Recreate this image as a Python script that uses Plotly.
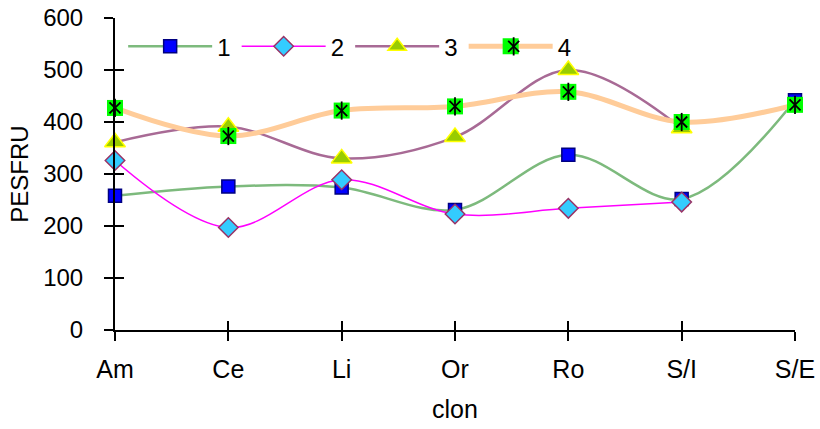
import plotly.graph_objects as go

# Clone categories and PESFRU values for each series
clones = ["Am", "Ce", "Li", "Or", "Ro", "S/I", "S/E"]
serie_1 = [258, 276, 274, 231, 337, 252, 442]
serie_2 = [326, 197, 289, 223, 234, 246, None]
serie_3 = [361, 391, 330, 371, 500, 388, None]
serie_4 = [427, 373, 422, 430, 458, 400, 433]
y_ticks = [0, 100, 200, 300, 400, 500, 600]

FAMILY = "Liberation Sans, Arial, sans-serif"
FONT = dict(family=FAMILY, size=24, color="black")
XFONT = dict(family=FAMILY, size=25, color="black")

fig = go.Figure()

common = dict(x=clones, mode="lines+markers", cliponaxis=False,
              line_shape="spline", connectgaps=False)

fig.add_trace(go.Scatter(
    y=serie_1, name="1", **common,
    line=dict(color="#7DBA7D", width=2.5, smoothing=1),
    marker=dict(symbol="square", size=13, color="#0000FF",
                line=dict(color="#000080", width=1.5)),
))
fig.add_trace(go.Scatter(
    y=serie_2, name="2", **common,
    line=dict(color="#FF00FF", width=1.5, smoothing=1),
    marker=dict(symbol="diamond", size=15, color="#33CCFF",
                line=dict(color="#993366", width=1.5)),
))
fig.add_trace(go.Scatter(
    y=serie_3, name="3", **common,
    line=dict(color="#A86A95", width=2.5, smoothing=1),
    marker=dict(symbol="triangle-up", size=18, color="#99CC00",
                line=dict(color="#FFFF00", width=1.5)),
))
fig.add_trace(go.Scatter(
    y=serie_4, name="4", **common,
    line=dict(color="#FFCC99", width=5, smoothing=1),
    marker=dict(symbol="square", size=16, color="#00FF00",
                line=dict(width=0)),
))
# Star glyph on top of the green squares: an X plus a vertical stroke
fig.add_trace(go.Scatter(
    x=clones, y=serie_4, mode="markers", name=" ", legend="legend2",
    cliponaxis=False, hoverinfo="skip",
    marker=dict(symbol="x-thin-open", size=11, color="black",
                line=dict(color="black", width=1.8)),
))
fig.add_trace(go.Scatter(
    x=clones, y=serie_4, mode="markers", name=" ", legend="legend3",
    cliponaxis=False, hoverinfo="skip",
    marker=dict(symbol="line-ns-open", size=13, color="black",
                line=dict(color="black", width=1.8)),
))
# Empty trace that carries the inner half of the crossing tick marks
fig.add_trace(go.Scatter(
    x=clones, y=[None] * len(clones), xaxis="x2", yaxis="y2",
    mode="markers", showlegend=False, hoverinfo="skip",
))

STEP = 114.5          # distance between legend entries, px
ITEM_W = 84           # legend symbol width, px
ENTRY_W = STEP - ITEM_W - 16
PLOT_W = 680
LEG_X = 0.012
LEG_Y = 0.908
leg_common = dict(orientation="h", yanchor="middle", y=LEG_Y,
                  xanchor="left", bgcolor="rgba(0,0,0,0)",
                  font=FONT, entrywidth=ENTRY_W, entrywidthmode="pixels",
                  itemwidth=ITEM_W, tracegroupgap=0)

fig.update_layout(
    width=820, height=429,
    margin=dict(l=115, r=25, t=18, b=99),
    paper_bgcolor="white", plot_bgcolor="white",
    font=FONT,
    showlegend=True,
    legend=dict(x=LEG_X, **leg_common),
    legend2=dict(x=LEG_X + 3 * STEP / PLOT_W, **leg_common),
    legend3=dict(x=LEG_X + 3 * STEP / PLOT_W, **leg_common),
    xaxis=dict(
        type="category", categoryorder="array", categoryarray=clones,
        range=[0, 6], showgrid=False, zeroline=False,
        showline=True, linecolor="black", linewidth=2,
        ticks="outside", ticklen=9, tickwidth=2, tickcolor="black",
        ticklabelstandoff=7, tickfont=XFONT,
        title=dict(text="clon", font=XFONT, standoff=18),
        automargin=False,
    ),
    yaxis=dict(
        range=[0, 600], tickvals=y_ticks, showgrid=False, zeroline=False,
        showline=True, linecolor="black", linewidth=2,
        ticks="outside", ticklen=9, tickwidth=2, tickcolor="black",
        ticklabelstandoff=16, tickfont=FONT,
        title=dict(text="PESFRU", font=FONT, standoff=8),
        automargin=False,
    ),
    xaxis2=dict(
        type="category", categoryorder="array", categoryarray=clones,
        range=[0, 6], overlaying="x", anchor="y2", showgrid=False,
        zeroline=False, showline=False, showticklabels=False,
        ticks="inside", ticklen=9, tickwidth=2, tickcolor="black",
    ),
    yaxis2=dict(
        range=[0, 600], tickvals=y_ticks, overlaying="y", anchor="x2",
        showgrid=False, zeroline=False, showline=False,
        showticklabels=False,
        ticks="inside", ticklen=9, tickwidth=2, tickcolor="black",
    ),
)

fig.write_html("out.html")
